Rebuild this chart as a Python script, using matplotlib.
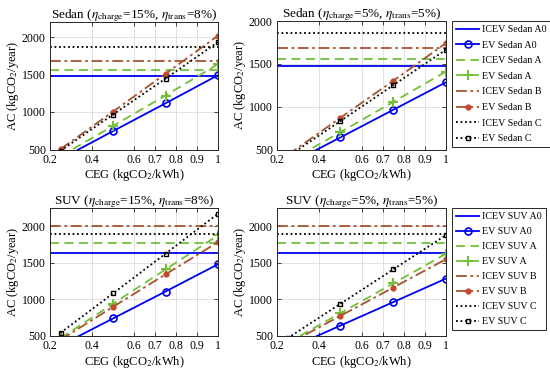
import matplotlib
matplotlib.use("Agg")
import matplotlib.pyplot as plt
from matplotlib.ticker import FixedLocator, FixedFormatter

plt.rcParams['font.family'] = ['Liberation Serif', 'DejaVu Serif']
plt.rcParams['mathtext.fontset'] = 'stix'

# ---------------- data ----------------
ceg = [0.25, 0.5, 0.75, 1.0]
classes = ["A0", "A", "B", "C"]

sedan_icev = [1475, 1555, 1685, 1865]
suv_icev = [1632, 1770, 2000, 1893]

sedan_ev_15_8 = {
    "A0": [372, 745, 1116, 1491],
    "A": [410, 815, 1220, 1638],
    "B": [505, 1005, 1510, 2017],
    "C": [483, 966, 1445, 1932],
}
sedan_ev_5_5 = {
    "A0": [321, 641, 963, 1285],
    "A": [353, 702, 1055, 1410],
    "B": [435, 870, 1302, 1742],
    "C": [416, 832, 1250, 1665],
}
suv_ev_15_8 = {
    "A0": [370, 740, 1108, 1481],
    "A": [470, 940, 1410, 1876],
    "B": [447, 898, 1343, 1783],
    "C": [543, 1082, 1625, 2172],
}
suv_ev_5_5 = {
    "A0": [321, 642, 963, 1285],
    "A": [406, 812, 1218, 1625],
    "B": [387, 775, 1162, 1550],
    "C": [470, 940, 1410, 1880],
}

xticks = [0.2, 0.4, 0.6, 0.7, 0.8, 0.9, 1.0]
xtick_labels = ["0.2", "0.4", "0.6", "0.7", "0.8", "0.9", "1"]
yticks = [500, 1000, 1500, 2000]
ytick_labels = ["500", "1000", "1500", "2000"]

# ---------------- styles ----------------
blue = '#0000F0'
green = '#72C03A'
brown = '#A6532E'
brown_mk = '#C4482C'
black = '#000000'

icev_style = {
    "A0": dict(color=blue, ls='-', lw=1.3),
    "A": dict(color=green, ls=(0, (5, 3)), lw=1.3),
    "B": dict(color=brown, ls=(0, (6, 2, 1.5, 2)), lw=1.3),
    "C": dict(color=black, ls=(0, (1, 1.5)), lw=1.3),
}
ev_style = {
    "A0": dict(color=blue, ls='-', lw=1.3, marker='o', ms=5, mfc='none', mew=1.2, mec=blue),
    "A": dict(color=green, ls=(0, (5, 3)), lw=1.3, marker='+', ms=7, mew=1.5, mec=green),
    "B": dict(color=brown, ls=(0, (6, 2, 1.5, 2)), lw=1.3, marker='o', ms=3.5, mfc=brown_mk, mec=brown_mk),
    "C": dict(color=black, ls=(0, (1, 1.5)), lw=1.3, marker='s', ms=3.2, mfc='none', mew=1.0, mec=black),
}

fig = plt.figure(figsize=(5.5, 3.75), dpi=100)

W = 550.0
H = 375.0

def ax_at(x0, x1, y0, y1):
    return fig.add_axes([x0 / W, 1 - y1 / H, (x1 - x0) / W, (y1 - y0) / H])

panels = [
    (ax_at(50, 218, 22, 149.5), "Sedan", sedan_icev, sedan_ev_15_8,
     r"Sedan ($\eta_{\rm charge}$=15%, $\eta_{\rm trans}$=8%)", (500, 2200), False, 0.66),
    (ax_at(277, 446, 21, 149.5), "Sedan", sedan_icev, sedan_ev_5_5,
     r"Sedan ($\eta_{\rm charge}$=5%, $\eta_{\rm trans}$=5%)", (500, 2000), True, 0.66),
    (ax_at(50, 218, 208, 336), "SUV", suv_icev, suv_ev_15_8,
     r"SUV ($\eta_{\rm charge}$=15%, $\eta_{\rm trans}$=8%)", (500, 2250), False, 0.6),
    (ax_at(277, 446, 208, 336), "SUV", suv_icev, suv_ev_5_5,
     r"SUV ($\eta_{\rm charge}$=5%, $\eta_{\rm trans}$=5%)", (500, 2250), True, 0.6),
]

for ax, veh, icev, ev, title, ylim, has_legend, lspace in panels:
    handles = []
    for i, c in enumerate(classes):
        h1 = ax.axhline(icev[i], label=f"ICEV {veh} {c}", **icev_style[c])
        h2, = ax.plot(ceg, ev[c], label=f"EV {veh} {c}", **ev_style[c])
        handles += [h1, h2]
    ax.set_xlim(0.2, 1.0)
    ax.set_ylim(*ylim)
    ax.xaxis.set_major_locator(FixedLocator(xticks))
    ax.xaxis.set_major_formatter(FixedFormatter(xtick_labels))
    ax.yaxis.set_major_locator(FixedLocator(yticks))
    ax.yaxis.set_major_formatter(FixedFormatter(ytick_labels))
    ax.grid(True, color='#DCDCDC', lw=0.6)
    ax.set_axisbelow(True)
    ax.tick_params(direction='in', length=3, labelsize=8.5, pad=3, width=0.6,
                   top=True, right=True, color='#262626')
    for s in ax.spines.values():
        s.set_linewidth(0.7)
        s.set_color('#262626')
    ax.set_title(title, fontsize=9.5, pad=3)
    ax.set_xlabel(r"CEG (kgCO$_2$/kWh)", fontsize=9, labelpad=1)
    ax.set_ylabel(r"AC (kgCO$_2$/year)", fontsize=9, labelpad=1)
    if has_legend:
        top = ax.get_position().y1
        leg = fig.legend(handles=handles, loc='upper left',
                         bbox_to_anchor=(452 / W, top), bbox_transform=fig.transFigure,
                         fontsize=7.2, frameon=True, fancybox=False, framealpha=1,
                         edgecolor='#262626', handlelength=2.3, handletextpad=0.3,
                         labelspacing=lspace, borderpad=0.4, borderaxespad=0)
        leg.get_frame().set_linewidth(0.7)

fig.savefig("out.png", dpi=100)
